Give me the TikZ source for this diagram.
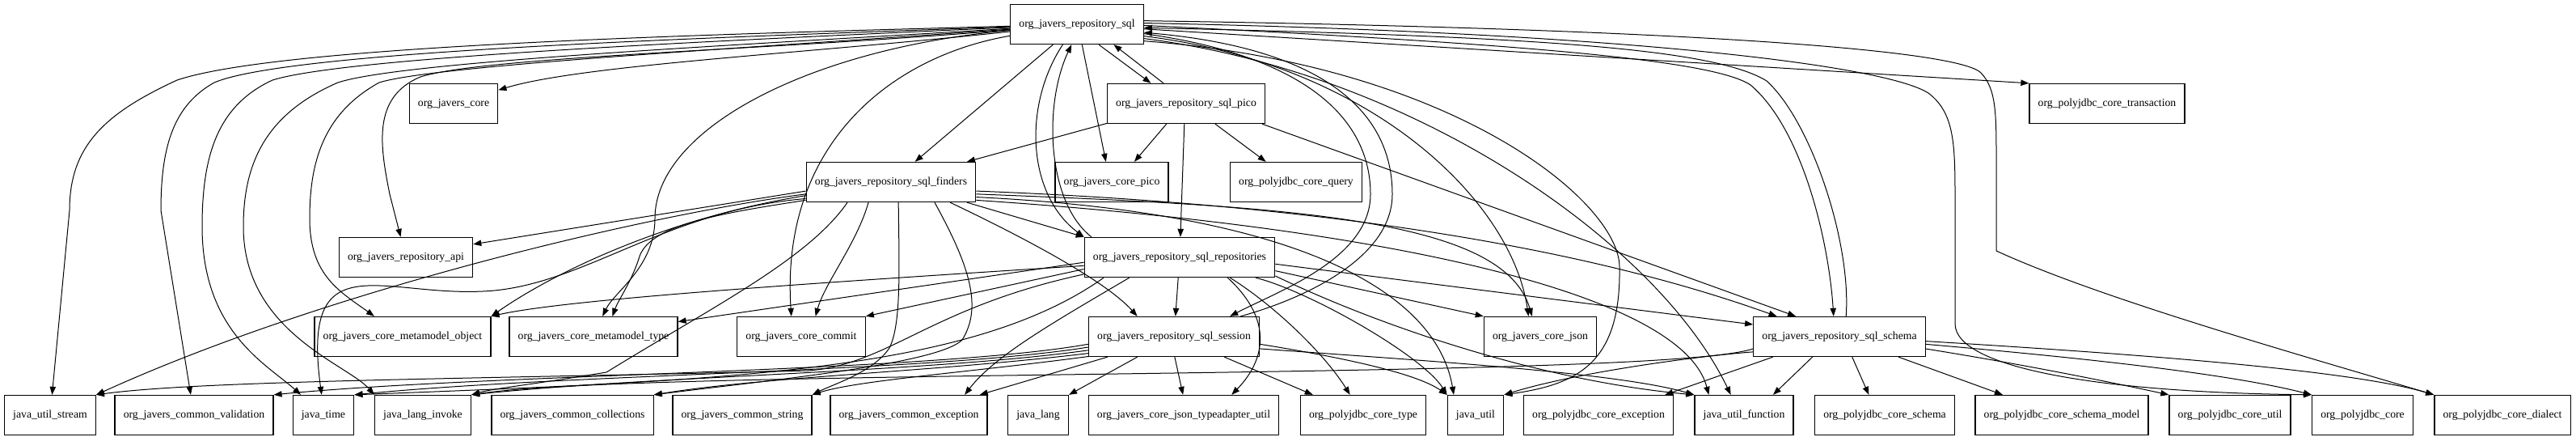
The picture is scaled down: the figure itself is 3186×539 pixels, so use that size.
\documentclass[tikz,border=0pt]{standalone}
\usepackage{fontspec}
\setmainfont{Liberation Serif}
\usetikzlibrary{arrows.meta}

\begin{document}
\begin{tikzpicture}[x=0.75pt, y=-0.75pt,
        box/.style={rectangle, draw=black, line width=1pt, minimum height=36.75pt, inner xsep=8pt, inner ysep=0pt, font=\fontsize{10.3}{12}\selectfont},
        arrow/.style={-{Triangle[length=7.5pt, width=5.5pt]}, line width=0.75pt}]
    \useasboundingbox (0,0) rectangle (3186,539);

    \node (sql) [box] at (1332, 30) {org\_javers\_repository\_sql};

    \node (core) [box] at (561, 128) {org\_javers\_core};
    \node (pico) [box] at (1467, 128) {org\_javers\_repository\_sql\_pico};
    \node (trans) [box] at (2606, 128) {org\_polyjdbc\_core\_transaction};

    \node (finders) [box] at (1102, 225) {org\_javers\_repository\_sql\_finders};
    \node (corepico) [box] at (1375, 225) {org\_javers\_core\_pico};
    \node (query) [box] at (1603, 225) {org\_polyjdbc\_core\_query};

    \node (api) [box] at (502, 318) {org\_javers\_repository\_api};
    \node (repos) [box] at (1459, 318) {org\_javers\_repository\_sql\_repositories};

    \node (mmobject) [box] at (498, 416) {org\_javers\_core\_metamodel\_object};
    \node (mmtype) [box] at (734, 416) {org\_javers\_core\_metamodel\_type};
    \node (commit) [box] at (991, 416) {org\_javers\_core\_commit};
    \node (session) [box] at (1452, 416) {org\_javers\_repository\_sql\_session};
    \node (json) [box] at (1905, 416) {org\_javers\_core\_json};
    \node (schema) [box] at (2275, 416) {org\_javers\_repository\_sql\_schema};

    \node (ustream) [box] at (62, 513) {java\_util\_stream};
    \node (validation) [box] at (240, 513) {org\_javers\_common\_validation};
    \node (jtime) [box] at (400, 513) {java\_time};
    \node (invoke) [box] at (523, 513) {java\_lang\_invoke};
    \node (collections) [box] at (708, 513) {org\_javers\_common\_collections};
    \node (string) [box] at (918, 513) {org\_javers\_common\_string};
    \node (exception) [box] at (1124, 513) {org\_javers\_common\_exception};
    \node (jlang) [box] at (1284, 513) {java\_lang};
    \node (typeadapter) [box] at (1464, 513) {org\_javers\_core\_json\_typeadapter\_util};
    \node (ptype) [box] at (1686, 513) {org\_polyjdbc\_core\_type};
    \node (jutil) [box] at (1825, 513) {java\_util};
    \node (pexception) [box] at (1977, 513) {org\_polyjdbc\_core\_exception};
    \node (function) [box] at (2157, 513) {java\_util\_function};
    \node (pschema) [box] at (2331, 513) {org\_polyjdbc\_core\_schema};
    \node (pschemamodel) [box] at (2550, 513) {org\_polyjdbc\_core\_schema\_model};
    \node (putil) [box] at (2758, 513) {org\_polyjdbc\_core\_util};
    \node (pcore) [box] at (2922, 513) {org\_polyjdbc\_core};
    \node (pdialect) [box] at (3095, 513) {org\_polyjdbc\_core\_dialect};

    \draw [arrow] (sql) .. controls (1000,66) and (720,80) .. (core);
    \draw [arrow] (sql) .. controls (900,42) and (350,55) .. (219,99) .. controls (130,140) and (86,180) .. (86,260) -- (ustream);
    \draw [arrow] (sql) .. controls (900,46) and (360,62) .. (265,102) .. controls (215,130) and (199,180) .. (199,260) -- (validation);
    \draw [arrow] (sql) .. controls (900,50) and (430,70) .. (337,99) .. controls (270,130) and (250,190) .. (250,280) .. controls (250,410) and (330,450) .. (jtime);
    \draw [arrow] (sql) .. controls (950,54) and (500,75) .. (418,102) .. controls (330,140) and (301,200) .. (301,280) .. controls (301,410) and (430,450) .. (invoke.north west);
    \draw [arrow] (sql) .. controls (950,58) and (540,80) .. (469,102) .. controls (400,140) and (383,200) .. (383,270) .. controls (383,340) and (420,360) .. (mmobject);
    \draw [arrow] (sql) .. controls (950,62) and (600,70) .. (520,95) .. controls (460,120) and (470,180) .. (482,240) -- (api);
    \draw [arrow] (sql) -- (finders);
    \draw [arrow] (sql) .. controls (1000,60) and (810,160) .. (810,270) .. controls (810,330) and (760,360) .. (mmtype.66);
    \draw [arrow] (sql) .. controls (1100,70) and (965,180) .. (commit.116);
    \draw [arrow] (sql.235) .. controls (1265,130) and (1270,240) .. (repos.north west);
    \draw [arrow] (repos.167) .. controls (1295,250) and (1290,130) .. (sql.255);
    \draw [arrow] (sql.284) -- (corepico.106);
    \draw [arrow] (sql.317) -- (pico.150);
    \draw [arrow] (pico.138) -- (sql.331);
    \draw [arrow] (sql.-4) -- (trans.north west);
    \draw [arrow] (sql.-10) .. controls (1700,80) and (1870,250) .. (json.120);
    \draw [arrow] (sql.-14) .. controls (1800,80) and (2003,250) .. (2003,330) .. controls (2005,450) and (1950,475) .. (jutil.north east);
    \draw [arrow] (sql.-12) .. controls (1750,90) and (2050,300) .. (function.123);
    \draw [arrow] (sql.-8) .. controls (1620,70) and (1695,150) .. (1695,240) .. controls (1695,320) and (1580,360) .. (session.20);
    \draw [arrow] (session.17) .. controls (1610,370) and (1722,320) .. (1722,240) .. controls (1722,140) and (1640,60) .. (sql.-7);
    \draw [arrow] (sql.-1) .. controls (1900,55) and (2120,75) .. (2165,105) .. controls (2230,160) and (2262,300) .. (schema.106);
    \draw [arrow] (schema.72) .. controls (2290,300) and (2240,150) .. (2185,100) .. controls (2120,60) and (1900,45) .. (sql.-3);
    \draw [arrow] (sql.1) .. controls (2000,40) and (2330,80) .. (2385,115) .. controls (2418,140) and (2418,180) .. (2418,250) -- (2418,400) .. controls (2418,455) and (2600,485) .. (pcore.north west);
    \draw [arrow] (sql.3) .. controls (2050,35) and (2420,60) .. (2450,90) .. controls (2469,110) and (2469,140) .. (2469,200) -- (2469,310) .. controls (2600,370) and (2850,440) .. (pdialect.north west);

    \draw [arrow] (pico.194) -- (finders.15);
    \draw [arrow] (pico.226) -- (corepico.42);
    \draw [arrow] (pico.265) -- (repos.88);
    \draw [arrow] (pico.325) -- (query.146);
    \draw [arrow] (pico.345) -- (schema.155);

    \draw [arrow] (finders.186) -- (api.11);
    \draw [arrow] (finders.189) .. controls (820,270) and (680,340) .. (mmobject.north east);
    \draw [arrow] (finders.192) .. controls (880,265) and (800,280) .. (790,320) .. controls (780,350) and (765,370) .. (mmtype.47);
    \draw [arrow] (finders.188) .. controls (800,265) and (400,360) .. (ustream.north east);
    \draw [arrow] (finders.191) .. controls (820,260) and (720,355) .. (597,360) .. controls (470,366) and (372,300) .. (jtime.95);
    \draw [arrow] (finders.205) .. controls (1000,320) and (880,380) .. (750,460) .. controls (660,475) and (610,480) .. (invoke.north east);
    \draw [arrow] (finders.222) .. controls (1060,300) and (1020,350) .. (commit.55);
    \draw [arrow] (finders.290) .. controls (1112,330) and (1115,400) .. (1100,430) .. controls (1080,460) and (1030,475) .. (string.north east);
    \draw [arrow] (finders.335) .. controls (1200,330) and (1215,380) .. (1190,420) .. controls (1160,450) and (950,470) .. (collections.north east);
    \draw [arrow] (finders.341) .. controls (1280,300) and (1370,350) .. (session.151);
    \draw [arrow] (finders.345) -- (repos.north west);
    \draw [arrow] (finders.-8) .. controls (1600,255) and (1860,270) .. (json.112);
    \draw [arrow] (finders.-6) .. controls (1700,255) and (2000,320) .. (schema.162);
    \draw [arrow] (finders.-10) .. controls (1650,265) and (1780,380) .. (jutil.137);
    \draw [arrow] (finders.-12) .. controls (1700,280) and (2080,360) .. (function.150);

    \draw [arrow] (repos.183) -- (mmtype.10);
    \draw [arrow] (repos.185) .. controls (1000,350) and (700,370) .. (mmobject.north east);
    \draw [arrow] (repos.187) -- (commit.north east);
    \draw [arrow] (repos.190) .. controls (1150,380) and (1100,450) .. (1000,458) .. controls (600,468) and (250,470) .. (ustream.north east);
    \draw [arrow] (repos.195) .. controls (1200,460) and (900,470) .. (jtime.north east);
    \draw [arrow] (repos.202) .. controls (1300,400) and (1230,440) .. (exception.20);
    \draw [arrow] (repos) -- (session);
    \draw [arrow] (repos.337) .. controls (1580,400) and (1560,450) .. (typeadapter.23);
    \draw [arrow] (repos.338) .. controls (1580,380) and (1640,440) .. (ptype.123);
    \draw [arrow] (repos.345) .. controls (1620,360) and (1760,440) .. (jutil.north west);
    \draw [arrow] (repos.-8) -- (json.north west);
    \draw [arrow] (repos.-4) -- (schema.172);
    \draw [arrow] (repos.-11) .. controls (1700,400) and (1900,470) .. (function.north west);

    \draw [arrow] (session.209) -- (jlang.north east);
    \draw [arrow] (session.272) -- (typeadapter.92);
    \draw [arrow] (session.197) -- (exception.16);
    \draw [arrow] (session.338) -- (ptype.158);
    \draw [arrow] (session.193) .. controls (1200,460) and (1060,470) .. (string.north east);
    \draw [arrow] (session.191) .. controls (1150,460) and (950,465) .. (collections.north east);
    \draw [arrow] (session.189) .. controls (1150,460) and (800,465) .. (invoke.north east);
    \draw [arrow] (session.187) .. controls (1150,460) and (700,462) .. (jtime.north east);
    \draw [arrow] (session.185) .. controls (1150,460) and (600,462) .. (validation.north east);
    \draw [arrow] (session.-5) .. controls (1650,440) and (1750,460) .. (jutil.north west);
    \draw [arrow] (session.-8) .. controls (1750,445) and (2000,460) .. (function.north west);

    \draw [arrow] (schema.190) .. controls (2100,440) and (1950,460) .. (jutil.north east);
    \draw [arrow] (schema.217) -- (function.35);
    \draw [arrow] (schema.197) -- (pexception.17);
    \draw [arrow] (schema.302) -- (pschema.128);
    \draw [arrow] (schema.341) -- (pschemamodel.161);
    \draw [arrow] (schema.-8) .. controls (2500,450) and (2600,470) .. (putil.north west);
    \draw [arrow] (schema.-5) .. controls (2550,440) and (2750,460) .. (pcore.north west);
    \draw [arrow] (schema.-3) .. controls (2600,435) and (2900,455) .. (pdialect.north west);
    \draw [arrow] (schema.188) .. controls (2050,470) and (800,455) .. (invoke.north east);
\end{tikzpicture}
\end{document}
